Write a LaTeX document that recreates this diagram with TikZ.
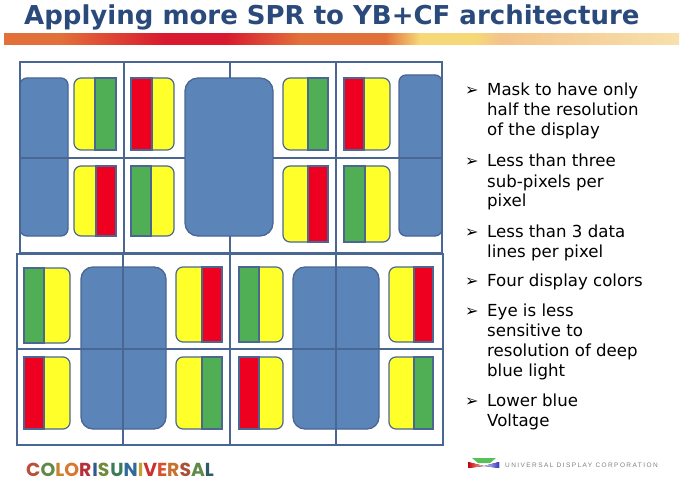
\documentclass[tikz,border=0pt]{standalone}
\usepackage{fontspec}
\setmainfont{DejaVu Sans}
\newfontfamily\logofont{Poppins}
\newfontfamily\udcfont[LetterSpace=22]{Liberation Sans}
\definecolor{lineblue}{HTML}{4A6794}
\definecolor{fillblue}{HTML}{5B84B8}
\definecolor{subyellow}{HTML}{FFFF2A}
\definecolor{subgreen}{HTML}{50AF55}
\definecolor{subred}{HTML}{EE0020}
\definecolor{titleblue}{HTML}{2B4A7C}
\definecolor{barA}{HTML}{E2703A}
\definecolor{barB}{HTML}{D8192F}
\definecolor{barC}{HTML}{F6D878}
\definecolor{barD}{HTML}{F3C48A}
\definecolor{barE}{HTML}{F8E0AC}
\tikzset{
  x=1pt,y=-1pt,
  gridline/.style={draw=lineblue,line width=1.3pt},
  bluecell/.style={draw=lineblue,fill=fillblue,line width=1.3pt},
  subcell/.style={draw=lineblue,line width=1.2pt},
  yellowpart/.style={subcell,fill=subyellow,rounded corners=7pt},
  bullettext/.style={anchor=base west,inner sep=0pt,font=\fontsize{16.6}{20}\selectfont,text=black},
  bulletmark/.style={anchor=base west,inner sep=0pt,font=\fontsize{16}{20}\selectfont,text=black},
  titletext/.style={anchor=base west,inner sep=0pt,font=\fontsize{26}{30}\selectfont\bfseries,text=titleblue},
}
% colour on the left: x1 split x2 y1 y2 colour
\newcommand{\subL}[6]{%
  \draw[yellowpart] (#1+10,#4) rectangle (#3,#5);
  \draw[subcell,fill=#6] (#1,#4) rectangle (#2,#5);}
% colour on the right
\newcommand{\subR}[6]{%
  \draw[yellowpart] (#1,#4) rectangle (#3-10,#5);
  \draw[subcell,fill=#6] (#2,#4) rectangle (#3,#5);}
\begin{document}
\begin{tikzpicture}
\useasboundingbox[fill=white] (0,0) rectangle (683,484);
% title and bar
\node[titletext] (title) at (24,25) {Applying more SPR to YB+CF architecture};
\fill[left color=barA,right color=barA] (4,34) rectangle (60,45);
\fill[left color=barA,right color=barB] (60,34) rectangle (165,45);
\fill[left color=barB,right color=barB] (165,34) rectangle (225,45);
\fill[left color=barB,right color=barA] (225,34) rectangle (300,45);
\fill[left color=barA,right color=barA] (300,34) rectangle (385,45);
\fill[left color=barA,right color=barC] (385,34) rectangle (420,45);
\fill[left color=barC,right color=barC] (420,34) rectangle (475,45);
\fill[left color=barC,right color=barD] (475,34) rectangle (500,45);
\fill[left color=barD,right color=barE] (500,34) rectangle (679,45);
% blue cells under the grid lines
\draw[bluecell,rounded corners=7pt] (20,78) rectangle (68,236);
\draw[bluecell,rounded corners=7pt] (399,75) rectangle (442,236);
\draw[bluecell,rounded corners=12pt] (81,267) rectangle (166,429);
\draw[bluecell,rounded corners=12pt] (293,267) rectangle (379,429);
% grids
\draw[gridline] (20,62) rectangle (442,253);
\draw[gridline] (20,158) -- (442,158);
\draw[gridline] (124,62) -- (124,253);
\draw[gridline,line width=2pt] (124,62) -- (124,158);
\draw[gridline] (230,62) -- (230,253);
\draw[gridline] (336,62) -- (336,253);
\draw[gridline] (17,254) rectangle (443,445);
\draw[gridline] (17,349) -- (443,349);
\draw[gridline] (123,254) -- (123,445);
\draw[gridline,line width=1.8pt] (230,254) -- (230,445);
\draw[gridline] (336,254) -- (336,445);
% blue cell over the grid lines
\draw[bluecell,rounded corners=13pt] (185,78) rectangle (273,236);
% sub-pixels, upper block
\subR{74}{95}{116}{78}{150}{subgreen}
\subL{131}{152}{174}{78}{150}{subred}
\subR{74}{96}{116}{166}{236}{subred}
\subL{131}{151}{174}{166}{236}{subgreen}
\subR{283}{308}{328}{78}{150}{subgreen}
\subL{344}{364}{390}{78}{150}{subred}
\subR{283}{308}{328}{166}{242}{subred}
\subL{344}{365}{390}{166}{242}{subgreen}
% sub-pixels, lower block
\subL{24}{44}{70}{268}{343}{subgreen}
\subL{24}{44}{70}{357}{429}{subred}
\subR{176}{202}{222}{267}{342}{subred}
\subR{176}{202}{222}{357}{429}{subgreen}
\subL{239}{259}{283}{267}{342}{subgreen}
\subL{239}{259}{283}{357}{429}{subred}
\subR{389}{414}{433}{267}{342}{subred}
\subR{389}{414}{433}{357}{429}{subgreen}
% bullets
\foreach \n/\y in {a/96,b/167,c/237,d/286,e/316,f/406}
  \node[bulletmark] (mark\n) at (465,\y) {➢};
\node[bullettext] (t1) at (487,96) {Mask to have only};
\node[bullettext] (t2) at (487,116) {half the resolution};
\node[bullettext] (t3) at (487,136) {of the display};
\node[bullettext] (t4) at (487,167) {Less than three};
\node[bullettext] (t5) at (487,187) {sub-pixels per};
\node[bullettext] (t6) at (487,207) {pixel};
\node[bullettext] (t7) at (487,237) {Less than 3 data};
\node[bullettext] (t8) at (487,257) {lines per pixel};
\node[bullettext] (t9) at (487,286) {Four display colors};
\node[bullettext] (t10) at (487,316) {Eye is less};
\node[bullettext] (t11) at (487,336) {sensitive to};
\node[bullettext] (t12) at (487,356) {resolution of deep};
\node[bullettext] (t13) at (487,376) {blue light};
\node[bullettext] (t14) at (487,406) {Lower blue};
\node[bullettext] (t15) at (487,426) {Voltage};
% logos
\node[anchor=base west,inner sep=0pt,font=\logofont\bfseries\fontsize{18.8}{20}\selectfont] (colorlogo) at (26,476)
 {\textcolor[HTML]{B8503A}{C}\textcolor[HTML]{5F8A4A}{O}\textcolor[HTML]{C9822F}{L}\textcolor[HTML]{D9772F}{O}\textcolor[HTML]{B5303A}{R}\kern1pt\textcolor[HTML]{2F5A8A}{I}\textcolor[HTML]{6F8A3A}{S}\kern1pt\textcolor[HTML]{3E7A5A}{U}\textcolor[HTML]{2F6A9A}{N}\textcolor[HTML]{C9A02F}{I}\textcolor[HTML]{C9302F}{V}\textcolor[HTML]{D9502F}{E}\textcolor[HTML]{C9702F}{R}\textcolor[HTML]{A9503A}{S}\textcolor[HTML]{5F8A4A}{A}\textcolor[HTML]{2F5A6A}{L}};
\fill[green!45!gray!90!white] (472,458) -- (496,458) -- (490,463) -- (478,463) -- cycle;
\fill[left color=red!80!black,right color=red!25] (468,462) -- (484,466) -- (468,468) -- cycle;
\fill[left color=blue!15,right color=blue!60!gray] (484,466) -- (499,462) -- (499,468) -- cycle;
\node[anchor=base west,inner sep=0pt,font=\udcfont\fontsize{6.5}{8}\selectfont,text=gray] (udclogo) at (505,467) {UNIVERSAL DISPLAY CORPORATION};
\end{tikzpicture}
\end{document}
